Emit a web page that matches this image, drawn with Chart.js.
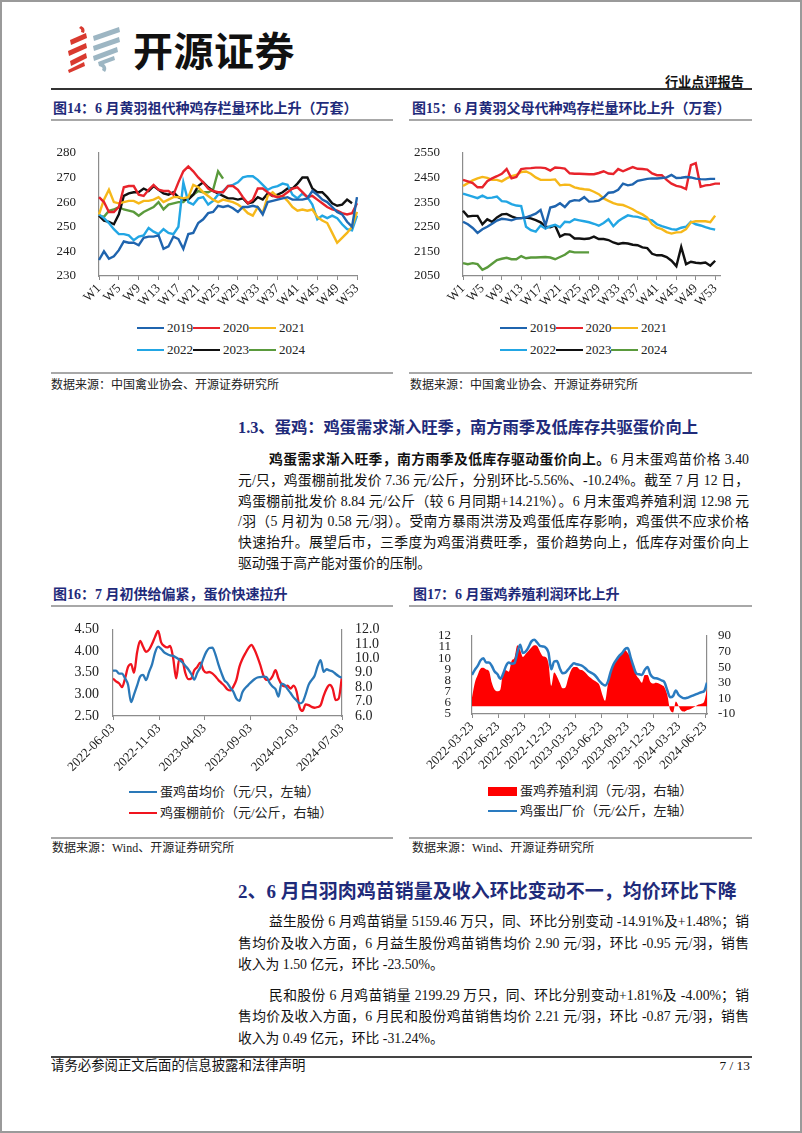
<!DOCTYPE html>
<html lang="zh-CN">
<head>
<meta charset="UTF-8">
<title>行业点评报告 - 蛋鸡与黄羽鸡</title>
<script src="https://cdn.jsdelivr.net/npm/chart.js"></script>
<style>
  body { margin: 0; background: #fff; }
  .page { position: relative; width: 802px; height: 1133px; overflow: hidden; background: #fff;
          font-family: "Liberation Serif", "Noto Sans CJK SC", serif; color: #111; }
  .frame { position: absolute; left: 0; top: 0; right: 0; bottom: 0; border: 2px solid #9a9a9a; pointer-events: none; }
  .abs { position: absolute; }
  .ttl { font-size: 14px; line-height: 16px; font-weight: bold; color: #1f2b7a; white-space: nowrap; }
  .uline { height: 2px; background: #a8a8a8; }
  .src { font-size: 12px; line-height: 14px; color: #222; white-space: nowrap; }
  .hd { font-weight: bold; color: #1f2b7a; white-space: nowrap; }
  .pl { width: 511px; font-size: 13.8px; text-align: justify; text-align-last: justify; }
  .pl.last { text-align-last: left; }
  .leg { font-size: 13px; line-height: 16px; display: flex; align-items: center; white-space: nowrap; color: #222; }
  canvas { position: absolute; }
</style>
</head>
<body>
<div class="page" id="page">

  <!-- 页眉 -->
  <svg class="abs" style="left:64px;top:24px" width="60" height="50" viewBox="0 0 60 50">
    <g fill="#d93a2f">
      <path d="M17 2 Q22 4 20 9 L17 8 Q18 5 15 4 Z"/>
      <polygon points="6,16 22,9 23,14 7,21"/>
      <polygon points="4,27 22,19 23,24 5,32"/>
      <polygon points="6,37 22,29 23,34 7,42"/>
      <polygon points="4,46 20,38 21,42 5,49"/>
    </g>
    <g fill="#9db6c3">
      <polygon points="29,12 55,3 56,8 30,17"/>
      <polygon points="29,22 55,13 56,18 30,27"/>
      <polygon points="29,32 53,23 54,28 30,37"/>
      <path d="M34 38 L50 32 L51 36 L40 40 Q44 44 41 48 L38 46 Q40 43 35 42 Z"/>
    </g>
  </svg>
  <div class="abs" style="left:133px;top:28px;font-family:'Noto Sans CJK SC';font-size:40px;line-height:42px;font-weight:700;color:#111;letter-spacing:0.5px">开源证券</div>
  <div class="abs" style="right:58px;top:75px;font-size:13.2px;line-height:16px;font-weight:bold;color:#111">行业点评报告</div>
  <div class="abs" style="left:51px;top:88px;width:701px;height:2px;background:#333"></div>

  <!-- 图14 / 图15 -->
  <div class="abs ttl" style="left:53px;top:101px">图14：6 月黄羽祖代种鸡存栏量环比上升（万套）</div>
  <div class="abs ttl" style="left:412px;top:101px">图15：6 月黄羽父母代种鸡存栏量环比上升（万套）</div>
  <div class="abs uline" style="left:51px;top:119px;width:342px"></div>
  <div class="abs uline" style="left:409px;top:119px;width:343px"></div>

  <canvas id="c14" width="345" height="185" style="left:35px;top:130px"></canvas>
  <canvas id="c15" width="345" height="185" style="left:395px;top:130px"></canvas>
  <div id="leg14"></div>
  <div id="leg15"></div>

  <div class="abs uline" style="left:51px;top:372px;width:342px"></div>
  <div class="abs uline" style="left:409px;top:372px;width:343px"></div>
  <div class="abs src" style="left:51px;top:378px">数据来源：中国禽业协会、开源证券研究所</div>
  <div class="abs src" style="left:410px;top:378px">数据来源：中国禽业协会、开源证券研究所</div>

  <!-- 1.3 蛋鸡 -->
  <div class="abs hd" style="left:238px;top:418px;font-size:16.3px;line-height:20px">1.3、蛋鸡：鸡蛋需求渐入旺季，南方雨季及低库存共驱蛋价向上</div>
  <div class="abs" style="left:238px;top:450px;line-height:20.8px">
    <div class="pl" style="text-indent:31px"><b>鸡蛋需求渐入旺季，南方雨季及低库存驱动蛋价向上。</b>6 月末蛋鸡苗价格 3.40</div>
    <div class="pl">元/只，鸡蛋棚前批发价 7.36 元/公斤，分别环比-5.56%、-10.24%。截至 7 月 12 日，</div>
    <div class="pl">鸡蛋棚前批发价 8.84 元/公斤（较 6 月同期+14.21%）。6 月末蛋鸡养殖利润 12.98 元</div>
    <div class="pl">/羽（5 月初为 0.58 元/羽）。受南方暴雨洪涝及鸡蛋低库存影响，鸡蛋供不应求价格</div>
    <div class="pl">快速抬升。展望后市，三季度为鸡蛋消费旺季，蛋价趋势向上，低库存对蛋价向上</div>
    <div class="pl last">驱动强于高产能对蛋价的压制。</div>
  </div>

  <!-- 图16 / 图17 -->
  <div class="abs ttl" style="left:53px;top:587px">图16：7 月初供给偏紧，蛋价快速拉升</div>
  <div class="abs ttl" style="left:413px;top:587px">图17：6 月蛋鸡养殖利润环比上升</div>
  <div class="abs uline" style="left:51px;top:605px;width:342px"></div>
  <div class="abs uline" style="left:409px;top:605px;width:343px"></div>

  <canvas id="c16" width="345" height="165" style="left:40px;top:615px"></canvas>
  <canvas id="c17" width="345" height="165" style="left:400px;top:615px"></canvas>

  <div class="abs leg" style="left:129px;top:784px"><span style="display:inline-block;width:28px;height:2.6px;background:#2a78b8;margin-right:3px"></span>蛋鸡苗均价（元/只，左轴）</div>
  <div class="abs leg" style="left:129px;top:805px"><span style="display:inline-block;width:28px;height:2.6px;background:#f0141e;margin-right:3px"></span>鸡蛋棚前价（元/公斤，右轴）</div>
  <div class="abs leg" style="left:488px;top:783px"><span style="display:inline-block;width:29px;height:9px;background:#ff0000;margin-right:3px"></span>蛋鸡养殖利润（元/羽，右轴）</div>
  <div class="abs leg" style="left:488px;top:803px"><span style="display:inline-block;width:29px;height:2.6px;background:#2a7bc0;margin-right:3px"></span>鸡蛋出厂价（元/公斤，左轴）</div>

  <div class="abs uline" style="left:51px;top:837px;width:342px"></div>
  <div class="abs uline" style="left:409px;top:837px;width:343px"></div>
  <div class="abs src" style="left:52px;top:841px">数据来源：Wind、开源证券研究所</div>
  <div class="abs src" style="left:412px;top:841px">数据来源：Wind、开源证券研究所</div>

  <!-- 2 白羽肉鸡苗 -->
  <div class="abs hd" style="left:238px;top:880px;font-size:19px;line-height:24px">2、6 月白羽肉鸡苗销量及收入环比变动不一，均价环比下降</div>
  <div class="abs" style="left:238px;top:911px;line-height:21.6px">
    <div class="pl" style="text-indent:31px">益生股份 6 月鸡苗销量 5159.46 万只，同、环比分别变动 -14.91%及+1.48%；销</div>
    <div class="pl">售均价及收入方面，6 月益生股份鸡苗销售均价 2.90 元/羽，环比 -0.95 元/羽，销售</div>
    <div class="pl last">收入为 1.50 亿元，环比 -23.50%。</div>
  </div>
  <div class="abs" style="left:238px;top:985px;line-height:21.4px">
    <div class="pl" style="text-indent:31px">民和股份 6 月鸡苗销量 2199.29 万只，同、环比分别变动+1.81%及 -4.00%；销</div>
    <div class="pl">售均价及收入方面，6 月民和股份鸡苗销售均价 2.21 元/羽，环比 -0.87 元/羽，销售</div>
    <div class="pl last">收入为 0.49 亿元，环比 -31.24%。</div>
  </div>

  <!-- 页脚 -->
  <div class="abs" style="left:51px;top:1056px;width:701px;height:1.5px;background:#444"></div>
  <div class="abs" style="left:51px;top:1058px;font-size:13.4px;line-height:16px;white-space:nowrap">请务必参阅正文后面的信息披露和法律声明</div>
  <div class="abs" style="right:52px;top:1058px;font-size:13.4px;line-height:16px">7 / 13</div>

  <div class="frame"></div>
</div>

<script>
  // ---- 图14：黄羽祖代种鸡存栏（万套），W1-W53 ----
  const weekLabels14 = Array.from({ length: 53 }, (_, i) => 'W' + (i + 1));
  const weekLabels15 = Array.from({ length: 54 }, (_, i) => 'W' + (i + 1));
  const yearNames = ['2019', '2020', '2021', '2022', '2023', '2024'];
  const yearColors = ['#1f64ae', '#e8232b', '#f6b81a', '#22a6e4', '#111111', '#5a9a3c'];

  const gp2019 = [236.5, 240, 237, 238, 240.5, 244, 243.5, 243.5, 242.5, 245.5, 246, 246, 246.5, 241, 242, 246, 245, 241, 247, 247.5,
                  251.5, 253, 255.5, 256, 258.5, 258, 258.5, 257.5, 256, 258, 258, 258.5, 258, 255, 260, 260.5, 261, 261.5, 262, 261,
                  261, 261, 261.5, 264.5, 263, 261, 260, 258, 256, 255, 252, 250, 262];
  const gp2020 = [262, 260, 256, 256, 258, 266, 266.5, 266.5, 263, 262.5, 265, 267, 265, 264.5, 264.5, 263, 268, 272.5, 274.5, 272.5,
                  270, 268, 265.5, 264.5, 264, 264, 266.5, 266.5, 265, 262, 259.5, 261, 265.5, 265.5, 264, 262.5, 262, 262.5, 264, 265.5,
                  266, 264, 262, 262.5, 261, 259.5, 258, 257, 256.5, 255.5, 255, 255.5, 259.5];
  const gp2021 = [255, 261, 265, 260, 259.5, 260, 260.5, 260.5, 259.5, 260.5, 260.5, 261, 262, 260, 261, 262, 262, 261.5, 262, 267,
                  266, 264, 262.5, 261, 260, 261, 260.5, 260, 259, 257.5, 255.5, 254.5, 258, 255.5, 262.5, 264, 262, 262.5, 260.5, 258,
                  256.5, 257, 256.5, 257, 254, 252.5, 251.5, 247.5, 243.5, 245.5, 247.5, 250, 256];
  const gp2022 = [255, 253.5, 251.5, 249, 247, 247, 246.5, 244.5, 246, 246.5, 249.5, 248, 247, 249, 247.5, 247, 250, 268, 260, 259,
                  261.5, 262, 259, 260.5, 263, 264.5, 266.5, 267, 268, 270, 270.5, 270.5, 269, 267, 265, 266, 266.5, 267.5, 267, 263,
                  261.5, 263.5, 262, 259, 253, 254.5, 253.5, 254.5, 253.5, 251, 249, 248.5, 254.5];
  const gp2023 = [254.5, 252.5, 252, 251, 255, 262.5, 263.5, 264, 264, 265.5, 264.5, 266.5, 265, 263.5, 263, 264, 262, 261, 261, 263,
                  266.5, 268, 266, 264.5, 263.5, 262.5, 261.5, 261.5, 261, 261.5, 259.5, 260, 262, 261, 263.5, 262.5, 263, 264, 265.5, 265.5,
                  267.5, 270, 270, 265.5, 264, 264, 262, 259.5, 258.5, 259, 261, 259.5];
  const gp2024 = [254.5, 254, 256.5, 257, 258, 257, 256.5, 256, 254.5, 256, 257, 258, 260, 257, 259, 259.5, 260, 260, 262, 263,
                  264.5, 264, 264, 265, 272.5, 269.5];

  // ---- 图15：黄羽父母代种鸡存栏（万套），W1-W54 ----
  const pp2019 = [2270, 2260, 2245, 2225, 2240, 2250, 2262, 2275, 2282, 2280, 2276, 2283, 2285, 2288, 2295, 2303, 2318, 2255, 2328, 2333,
                  2345, 2330, 2352, 2358, 2356, 2370, 2352, 2353, 2356, 2368, 2388, 2390, 2400, 2425, 2418, 2422, 2436, 2440, 2444, 2446,
                  2446, 2448, 2450, 2460, 2448, 2449, 2452, 2450, 2445, 2443, 2442, 2444, 2444];
  const pp2020 = [2440, 2434, 2427, 2410, 2410, 2435, 2446, 2455, 2465, 2484, 2446, 2452, 2484, 2487, 2488, 2490, 2490, 2488, 2478, 2490,
                  2489, 2486, 2467, 2465, 2465, 2464, 2463, 2463, 2468, 2475, 2466, 2464, 2484, 2475, 2484, 2492, 2485, 2484, 2482, 2466,
                  2459, 2459, 2440, 2425, 2416, 2412, 2403, 2500, 2508, 2412, 2418, 2420, 2425, 2425];
  const pp2021 = [2415, 2427, 2438, 2446, 2452, 2448, 2440, 2440, 2434, 2446, 2455, 2460, 2472, 2474, 2465, 2450, 2440, 2440, 2440, 2442,
                  2418, 2421, 2420, 2410, 2405, 2402, 2400, 2392, 2382, 2365, 2355, 2346, 2340, 2338, 2330, 2321, 2309, 2300, 2287, 2260,
                  2246, 2240, 2228, 2222, 2227, 2228, 2240, 2268, 2272, 2272, 2272, 2268, 2295];
  const pp2022 = [2384, 2378, 2372, 2366, 2376, 2366, 2368, 2372, 2354, 2352, 2342, 2336, 2334, 2250, 2236, 2230, 2255, 2242, 2252, 2258,
                  2248, 2270, 2268, 2280, 2276, 2272, 2268, 2262, 2254, 2265, 2280, 2252, 2272, 2285, 2296, 2292, 2290, 2284, 2280, 2276,
                  2260, 2252, 2246, 2240, 2238, 2246, 2250, 2270, 2260, 2255, 2248, 2242, 2238];
  const pp2023 = [2315, 2292, 2294, 2294, 2260, 2280, 2270, 2288, 2300, 2302, 2292, 2285, 2285, 2287, 2284, 2277, 2268, 2250, 2248, 2255,
                  2210, 2220, 2218, 2202, 2202, 2200, 2202, 2210, 2200, 2200, 2196, 2186, 2180, 2184, 2182, 2177, 2175, 2166, 2163, 2140,
                  2134, 2134, 2127, 2112, 2090, 2168, 2098, 2108, 2104, 2102, 2105, 2092, 2112];
  const pp2024 = [2102, 2098, 2102, 2098, 2075, 2085, 2100, 2115, 2120, 2124, 2118, 2118, 2131, 2122, 2125, 2125, 2126, 2127, 2125, 2118,
                  2127, 2136, 2150, 2146, 2146, 2146, 2146];

  // ---- 图16：每 10 天一个点，从 2022-06-03 起 ----
  const start16 = '2022-06-03';
  const step16 = 10;
  const tickDates16 = ['2022-06-03', '2022-11-03', '2023-04-03', '2023-09-03', '2024-02-03', '2024-07-03'];
  const chickPrice16 = [3.55, 3.55, 3.48, 3.48, 3.37, 3.22, 2.82, 3.00, 3.20, 3.41, 3.45, 3.33, 3.52, 3.70, 3.97, 4.10, 4.05, 3.97, 3.93, 3.90,
                        3.89, 3.85, 3.80, 3.74, 3.66, 3.58, 3.47, 3.34, 3.50, 3.62, 3.82, 3.98, 4.07, 4.08, 3.93, 3.70, 3.50, 3.33, 3.26, 3.15,
                        3.06, 2.90, 2.85, 3.05, 3.15, 3.22, 3.29, 3.35, 3.39, 3.40, 3.41, 3.40, 3.27, 3.18, 3.12, 2.95, 3.25, 3.22, 3.12, 3.03,
                        2.93, 2.86, 2.79, 2.82, 3.00, 3.22, 3.33, 3.43, 3.65, 3.79, 3.52, 3.58, 3.55, 3.53, 3.47, 3.42, 3.38];
  const shedEggPrice16 = [8.6, 8.4, 8.27, 8.0, 8.6, 9.4, 9.6, 9.0, 10.4, 11.2, 10.8, 10.45, 10.6, 11.0, 11.5, 11.9, 11.1, 10.85, 10.75, 10.85,
                          10.0, 8.6, 9.95, 9.9, 9.0, 8.55, 8.6, 9.17, 9.4, 9.7, 9.2, 9.0, 9.05, 8.95, 8.75, 8.5, 8.3, 8.1, 7.85, 7.77,
                          8.04, 8.5, 9.4, 9.95, 10.35, 10.7, 10.93, 10.6, 10.1, 9.5, 8.8, 8.5, 8.5, 8.75, 9.17, 8.6, 8.2, 8.05, 8.1, 7.9,
                          8.1, 7.7, 6.6, 6.35, 6.8, 6.75, 6.63, 6.57, 6.62, 6.75, 7.4, 7.9, 8.15, 7.9, 7.1, 7.2, 8.6];

  // ---- 图17：每 10 天一个点，从 2022-03-23 起 ----
  const start17 = '2022-03-23';
  const step17 = 10;
  const tickDates17 = ['2022-03-23', '2022-06-23', '2022-09-23', '2022-12-23', '2023-03-23', '2023-06-23',
                       '2023-09-23', '2023-12-23', '2024-03-23', '2024-06-23'];
  const factoryEggPrice17 = [8.5, 8.95, 9.3, 9.8, 10.0, 9.6, 9.6, 9.3, 8.8, 8.55, 8.15, 8.6, 9.3, 9.6, 9.5, 9.55, 10.5, 11.2, 10.45, 10.6,
                             11.0, 11.5, 11.65, 11.4, 11.1, 11.05, 10.95, 10.5, 9.0, 9.7, 9.75, 9.1, 8.65, 8.7, 9.0, 9.3, 9.55, 9.45, 9.4, 9.3,
                             9.1, 8.85, 8.7, 8.55, 8.3, 7.95, 7.69, 7.55, 7.9, 8.8, 9.45, 9.85, 10.2, 10.45, 10.8, 10.9, 10.1, 9.3, 8.65, 8.55,
                             8.5, 8.95, 9.2, 8.55, 8.25, 8.2, 8.12, 8.0, 7.83, 7.1, 6.5, 6.6, 7.1, 6.7, 6.5, 6.4, 6.45, 6.55, 6.65, 6.75,
                             6.85, 6.95, 7.05, 7.8];
  const layerProfit17 = [11, 30, 40, 48, 49, 47, 45, 30, 21, 19, 21, 44, 46, 44, 58, 62, 78, 72, 63, 67,
                         71, 75, 78, 77, 70, 64, 63, 55, 26, 43, 38, 30, 23, 24, 36, 46, 50, 50, 47, 46,
                         43, 39, 36, 33, 31, 27, 15, 7, 28, 42, 52, 58, 63, 67, 72, 68, 62, 50, 40, 35,
                         30, 40, 40, 31, 29, 30, 29, 27, 24, 14, -5, -8, 6, 0, -6, -7, -5, -4, -2, 0,
                         2, 3, 6, 22];

  const axisGray = '#8c8c8c';
  const fontFam = '"Liberation Serif", "Noto Sans CJK SC", serif';
  Chart.defaults.font.family = fontFam;
  Chart.defaults.font.size = 13;
  Chart.defaults.color = '#222';

  function dayOffset(start, d) {
    return Math.round((Date.parse(d) - Date.parse(start)) / 86400000);
  }

  function buildLegend(id, left, top, colW, rowH) {
    const box = document.getElementById(id);
    yearNames.forEach((name, i) => {
      const item = document.createElement('div');
      item.className = 'abs leg';
      item.style.left = (left + (i % 3) * colW) + 'px';
      item.style.top = (top + Math.floor(i / 3) * rowH) + 'px';
      item.innerHTML = '<span style="display:inline-block;width:27px;height:2.6px;background:' + yearColors[i] +
                       ';margin-right:3px"></span>' + name;
      box.appendChild(item);
    });
  }
  buildLegend('leg14', 137, 320, 56, 22);
  buildLegend('leg15', 500, 320, 55.5, 22);

  function weekChart(id, labels, series, yMin, yMax, yStep, yWidth, padRight, lastLabelIdx) {
    new Chart(document.getElementById(id), {
      type: 'line',
      data: {
        labels: labels,
        datasets: series.map((s, i) => ({
          label: yearNames[i], data: s, borderColor: yearColors[i], backgroundColor: yearColors[i],
          borderWidth: 2.4, pointRadius: 0, tension: 0, fill: false
        }))
      },
      options: {
        responsive: false, animation: false,
        layout: { padding: { top: 12, right: padRight, left: 0, bottom: 0 } },
        plugins: { legend: { display: false }, tooltip: { enabled: false } },
        scales: {
          x: {
            grid: { display: true, drawOnChartArea: false, tickLength: 4,
                    color: c => (c.index % 4 === 0 && c.index <= lastLabelIdx) ? axisGray : 'rgba(0,0,0,0)' },
            border: { color: axisGray, width: 1.2 },
            ticks: { autoSkip: false, minRotation: 45, maxRotation: 45, padding: 1,
                     callback: (v, i) => (i % 4 === 0 && i <= lastLabelIdx) ? labels[i] : '' },
            afterFit: s => { s.height = 39; }
          },
          y: {
            min: yMin, max: yMax,
            ticks: { stepSize: yStep, padding: 15, autoSkip: false, callback: v => String(v) },
            grid: { display: false },
            border: { color: axisGray, width: 1.2 },
            afterFit: s => { s.width = yWidth; }
          }
        }
      }
    });
  }

  weekChart('c14', weekLabels14, [gp2019, gp2020, gp2021, gp2022, gp2023, gp2024], 230, 280, 10, 64, 23, 52);
  weekChart('c15', weekLabels15, [pp2019, pp2020, pp2021, pp2022, pp2023, pp2024], 2050, 2550, 100, 68, 20, 52);

  function dateAxis(start, tickDates, maxDay, height) {
    const tickDays = tickDates.map(d => dayOffset(start, d));
    return {
      type: 'linear', min: 0, max: maxDay,
      afterBuildTicks: s => { s.ticks = tickDays.map(v => ({ value: v })); },
      grid: { display: true, drawOnChartArea: false, tickLength: 4, color: axisGray },
      border: { color: axisGray, width: 1.2 },
      ticks: { autoSkip: false, minRotation: 45, maxRotation: 45, padding: 1,
               callback: v => { const k = tickDays.indexOf(v); return k >= 0 ? tickDates[k] : ''; } },
      afterFit: s => { s.height = height; }
    };
  }

  function toPoints(values, step) {
    return values.map((v, k) => ({ x: k * step, y: v }));
  }

  // 图16
  new Chart(document.getElementById('c16'), {
    type: 'line',
    data: {
      datasets: [
        { label: '蛋鸡苗均价（元/只，左轴）', data: toPoints(chickPrice16, step16), yAxisID: 'y',
          borderColor: '#2a78b8', borderWidth: 2.3, pointRadius: 0, cubicInterpolationMode: 'monotone' },
        { label: '鸡蛋棚前价（元/公斤，右轴）', data: toPoints(shedEggPrice16, step16), yAxisID: 'y1',
          borderColor: '#f0141e', borderWidth: 2.3, pointRadius: 0, cubicInterpolationMode: 'monotone' }
      ]
    },
    options: {
      responsive: false, animation: false,
      layout: { padding: { top: 14, right: 0, left: 0, bottom: 0 } },
      plugins: { legend: { display: false }, tooltip: { enabled: false } },
      scales: {
        x: dateAxis(start16, tickDates16, Math.max(dayOffset(start16, tickDates16[tickDates16.length - 1]), (chickPrice16.length - 1) * step16), 64),
        y: { position: 'left', min: 2.5, max: 4.5,
             ticks: { stepSize: 0.5, padding: 6, autoSkip: false, font: { size: 14 }, callback: v => v.toFixed(2) },
             grid: { display: false }, border: { color: axisGray, width: 1.2 },
             afterFit: s => { s.width = 73; } },
        y1: { position: 'right', min: 6, max: 12,
              ticks: { stepSize: 1, padding: 5, autoSkip: false, font: { size: 14 }, callback: v => v.toFixed(1) },
              grid: { display: false }, border: { color: axisGray, width: 1.2 },
              afterFit: s => { s.width = 43; } }
      }
    }
  });

  // 图17
  new Chart(document.getElementById('c17'), {
    type: 'line',
    data: {
      datasets: [
        { label: '鸡蛋出厂价（元/公斤，左轴）', data: toPoints(factoryEggPrice17, step17), yAxisID: 'y',
          borderColor: '#2a7bc0', borderWidth: 2.5, pointRadius: 0, cubicInterpolationMode: 'monotone', fill: false },
        { label: '蛋鸡养殖利润（元/羽，右轴）', data: toPoints(layerProfit17, step17), yAxisID: 'y1',
          borderColor: 'rgba(0,0,0,0)', borderWidth: 0, backgroundColor: '#ff0000', pointRadius: 0,
          cubicInterpolationMode: 'monotone', fill: 'origin' }
      ]
    },
    options: {
      responsive: false, animation: false,
      layout: { padding: { top: 15, right: 0, left: 0, bottom: 0 } },
      plugins: { legend: { display: false }, tooltip: { enabled: false } },
      scales: {
        x: dateAxis(start17, tickDates17, (factoryEggPrice17.length - 1) * step17, 66),
        y: { position: 'left', min: 5, max: 12,
             ticks: { stepSize: 1, padding: 13, autoSkip: false, font: { size: 13 } },
             grid: { display: false }, border: { color: axisGray, width: 1.2 },
             afterFit: s => { s.width = 72; } },
        y1: { position: 'right', min: -10, max: 90,
              ticks: { stepSize: 20, padding: 3, autoSkip: false, font: { size: 13 } },
              grid: { display: false }, border: { color: axisGray, width: 1.2 },
              afterFit: s => { s.width = 38; } }
      }
    }
  });
</script>
</body>
</html>
